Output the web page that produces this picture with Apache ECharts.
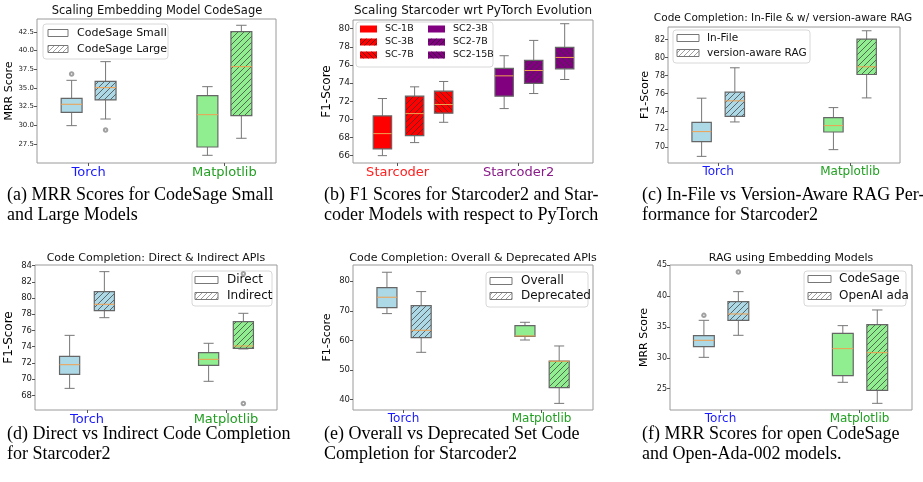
<!DOCTYPE html>
<html><head><meta charset="utf-8">
<script src="https://cdn.jsdelivr.net/npm/echarts@6/dist/echarts.min.js"></script>
<style>html,body{margin:0;padding:0;background:#fff}#c{width:923px;height:482px}</style>
</head><body><div id="c"></div>
<script>
// ---------- DATA ----------
// stats: [min, q1, median, q3, max]; per series, per category (null = absent)
const p1Categories = ['Torch', 'Matplotlib'];
const p1Series = ['CodeSage Small', 'CodeSage Large'];
const p1Stats = [
  [[29.96, 31.75, 32.82, 33.62, 36.03], [25.99, 27.1, 31.43, 33.97, 35.18]],
  [[30.85, 33.4, 35.05, 35.9, 38.53], [28.27, 31.3, 37.86, 42.54, 43.4]]
];
const p1Outliers = [[[36.88], []], [[29.38], []]];
const p1YTicks = [27.5, 30, 32.5, 35, 37.5, 40, 42.5];

const p2Categories = ['Starcoder', 'Starcoder2'];
const p2Series = ['SC-1B', 'SC-3B', 'SC-7B', 'SC2-3B', 'SC2-7B', 'SC2-15B'];
const p2Stats = [
  [[66.0, 66.74, 68.43, 70.38, 72.30], null],
  [[67.44, 68.21, 70.64, 72.56, 73.59], null],
  [[69.68, 70.68, 71.64, 73.11, 74.18], null],
  [null, [71.19, 72.56, 74.80, 75.62, 77.02]],
  [null, [72.85, 73.96, 75.39, 76.50, 78.71]],
  [null, [74.40, 75.58, 76.83, 77.94, 80.55]]
];
const p2Outliers = [[[], []], [[], []], [[], []], [[], []], [[], []], [[], []]];
const p2YTicks = [66, 68, 70, 72, 74, 76, 78, 80];

const p3Categories = ['Torch', 'Matplotlib'];
const p3Series = ['In-File', 'version-aware RAG'];
const p3Stats = [
  [[68.99, 70.63, 71.75, 72.79, 75.48], [69.74, 71.71, 72.42, 73.32, 74.43]],
  [[72.83, 73.46, 75.18, 76.15, 78.87], [75.51, 78.12, 78.98, 82.07, 83.0]]
];
const p3Outliers = [[[], []], [[], []]];
const p3YTicks = [70, 72, 74, 76, 78, 80, 82];

const p4Categories = ['Torch', 'Matplotlib'];
const p4Series = ['Direct', 'Indirect'];
const p4Stats = [
  [[68.86, 70.59, 71.78, 72.81, 75.40], [69.73, 71.70, 72.44, 73.26, 74.42]],
  [[77.58, 78.45, 79.23, 80.79, 83.26], [73.72, 73.80, 74.09, 77.09, 78.12]]
];
const p4Outliers = [[[], []], [[], [67.0, 83.0]]];
const p4YTicks = [68, 70, 72, 74, 76, 78, 80, 82, 84];

const p5Categories = ['Torch', 'Matplotlib'];
const p5Series = ['Overall', 'Deprecated'];
const p5Stats = [
  [[69.04, 71.07, 74.58, 77.85, 83.05], [60.1, 61.36, 61.47, 64.97, 66.1]],
  [[55.93, 60.9, 63.39, 71.75, 76.5], [38.64, 43.95, 52.9, 53.0, 58.08]]
];
const p5Outliers = [[[], []], [[], []]];
const p5YTicks = [40, 50, 60, 70, 80];

const p6Categories = ['Torch', 'Matplotlib'];
const p6Series = ['CodeSage', 'OpenAI ada'];
const p6Stats = [
  [[30.08, 31.81, 32.84, 33.59, 36.08], [26.03, 27.11, 31.49, 33.97, 35.22]],
  [[33.65, 36.08, 37.11, 39.11, 40.73], [22.62, 24.73, 30.84, 35.38, 37.76]]
];
const p6Outliers = [[[36.89], []], [[43.92], []]];
const p6YTicks = [25, 30, 35, 40, 45];

const captions = [
  ['(a) MRR Scores for CodeSage Small', 'and Large Models'],
  ['(b) F1 Scores for Starcoder2 and Star-', 'coder Models with respect to PyTorch'],
  ['(c) In-File vs Version-Aware RAG Per-', 'formance for Starcoder2'],
  ['(d) Direct vs Indirect Code Completion', 'for Starcoder2'],
  ['(e) Overall vs Deprecated Set Code', 'Completion for Starcoder2'],
  ['(f) MRR Scores for open CodeSage', 'and Open-Ada-002 models.']
];

// ---------- STYLE / LAYOUT ----------
const BLUE = '#add8e6', GREEN = '#90ee90', RED = '#ff0000', PURPLE = '#800080';
const FONT = 'DejaVu Sans';
const panels = [
  { cats: p1Categories, names: p1Series, stats: p1Stats, outl: p1Outliers, ticks: p1YTicks,
    title: 'Scaling Embedding Model CodeSage', yName: 'MRR Score', dec: 1,
    grid: [37, 19, 239, 144], xr: [0.62, 2.38], yr: [24.96, 44.24], offs: [-0.125, 0.125], bw: 0.154,
    hatch: [null, '/'], fills: 'cat', catColors: ['#1a1aff', '#22a022'],
    titlePos: [157, 5, 11.5], tickFont: 7, nameFont: 11, nameGap: 21, xFont: 13,
    legend: { box: [43, 24, 125, 35], cols: [[48, 77]], rows: [33, 49], pw: 20, font: 11 } },
  { cats: p2Categories, names: p2Series, stats: p2Stats, outl: p2Outliers, ticks: p2YTicks,
    title: 'Scaling Starcoder wrt PyTorch Evolution', yName: 'F1-Score', dec: 0,
    grid: [353, 20, 240, 143], xr: [0.631, 2.614], yr: [65.19, 80.96], offs: [-0.126, 0.14, 0.38, -0.12, 0.124, 0.38], bw: 0.152,
    hatch: [null, '/', '\\', null, '/', '\\'], fills: 'series', seriesFill: [RED, RED, RED, PURPLE, PURPLE, PURPLE],
    catColors: ['#ff2020', '#8a1a8a'],
    titlePos: [473, 5, 12], tickFont: 9, nameFont: 12, nameGap: 20, xFont: 13,
    legend: { box: [356, 22, 137, 45], cols: [[360, 385], [428, 453]], rows: [29, 42, 55], pw: 17, font: 9.5, filled: true } },
  { cats: p3Categories, names: p3Series, stats: p3Stats, outl: p3Outliers, ticks: p3YTicks,
    title: 'Code Completion: In-File & w/ version-aware RAG', yName: 'F1-Score', dec: 0,
    grid: [668, 27, 232, 136], xr: [0.619, 2.379], yr: [68.25, 83.42], offs: [-0.126, 0.126], bw: 0.147,
    hatch: [null, '/'], fills: 'cat', catColors: ['#1a1aff', '#22a022'],
    titlePos: [783, 13, 10.5], tickFont: 8, nameFont: 11, nameGap: 17, xFont: 12,
    legend: { box: [673, 30, 137, 33], cols: [[677, 707]], rows: [38, 53], pw: 22, font: 10.5 } },
  { cats: p4Categories, names: p4Series, stats: p4Stats, outl: p4Outliers, ticks: p4YTicks,
    title: 'Code Completion: Direct & Indirect APIs', yName: 'F1-Score', dec: 0,
    grid: [35, 265, 242, 145], xr: [0.626, 2.367], yr: [66.19, 84.08], offs: [-0.125, 0.125], bw: 0.145,
    hatch: [null, '/'], fills: 'cat', catColors: ['#1a1aff', '#22a022'],
    titlePos: [156, 253, 11], tickFont: 8.5, nameFont: 12, nameGap: 20, xFont: 13,
    legend: { box: [192, 271, 80, 35], cols: [[195, 227]], rows: [280, 296], pw: 23, font: 12 } },
  { cats: p5Categories, names: p5Series, stats: p5Stats, outl: p5Outliers, ticks: p5YTicks,
    title: 'Code Completion: Overall & Deprecated APIs', yName: 'F1-Score', dec: 0,
    grid: [353, 265, 240, 145], xr: [0.634, 2.373], yr: [36.4, 85.5], offs: [-0.12, 0.128], bw: 0.145,
    hatch: [null, '/'], fills: 'cat', catColors: ['#1a1aff', '#22a022'],
    titlePos: [473, 253, 11], tickFont: 8.5, nameFont: 11, nameGap: 20, xFont: 12,
    legend: { box: [486, 272, 102, 35], cols: [[490, 521]], rows: [281, 296], pw: 22, font: 12 } },
  { cats: p6Categories, names: p6Series, stats: p6Stats, outl: p6Outliers, ticks: p6YTicks,
    title: 'RAG using Embedding Models', yName: 'MRR Score', dec: 0,
    grid: [670, 265, 242, 145], xr: [0.636, 2.378], yr: [21.54, 45.05], offs: [-0.12, 0.128], bw: 0.15,
    hatch: [null, '/'], fills: 'cat', catColors: ['#1a1aff', '#22a022'],
    titlePos: [791, 253, 11], tickFont: 8, nameFont: 11, nameGap: 20, xFont: 12,
    legend: { box: [804, 271, 102, 35], cols: [[808, 839]], rows: [279, 296], pw: 23, font: 12 } }
];
const captionPos = [[7, 204], [324, 204], [642, 204], [7, 443], [324, 443], [642, 443]];

// ---------- HELPERS ----------
function hatchLines(x0, y0, x1, y1, dir, step, color, lw) {
  const out = [];
  if (!dir) return out;
  if (dir === '/') {
    for (let c = Math.ceil((x0 + y0) / step) * step; c <= x1 + y1; c += step) {
      const xa = Math.max(x0, c - y1), xb = Math.min(x1, c - y0);
      if (xb > xa) out.push({ type: 'line', shape: { x1: xa, y1: c - xa, x2: xb, y2: c - xb }, style: { stroke: color, lineWidth: lw } });
    }
  } else {
    for (let c = Math.ceil((x0 - y1) / step) * step; c <= x1 - y0; c += step) {
      const xa = Math.max(x0, c + y0), xb = Math.min(x1, c + y1);
      if (xb > xa) out.push({ type: 'line', shape: { x1: xa, y1: xa - c, x2: xb, y2: xb - c }, style: { stroke: color, lineWidth: lw } });
    }
  }
  return out;
}
function fillOf(p, si, ci) {
  if (p.fills === 'series') return p.seriesFill[si];
  return ci === 0 ? BLUE : GREEN;
}

const grids = [], xAxes = [], yAxes = [], series = [], titles = [], graphics = [];
panels.forEach((p, pi) => {
  grids.push({ left: p.grid[0], top: p.grid[1], width: p.grid[2], height: p.grid[3], show: true,
    borderColor: '#9a9a9a', borderWidth: 1, backgroundColor: 'transparent', containLabel: false });
  const rich = {};
  p.cats.forEach((c, i) => { rich['c' + i] = { color: p.catColors[i], fontSize: p.xFont, fontFamily: FONT }; });
  xAxes.push({ type: 'value', gridIndex: pi, min: p.xr[0], max: p.xr[1],
    axisLine: { show: false }, splitLine: { show: false },
    axisTick: { show: true, customValues: [1, 2], length: 3, lineStyle: { color: '#555' } },
    axisLabel: { customValues: [1, 2], margin: 3, formatter: v => { const i = Math.round(v) - 1; return '{c' + i + '|' + p.cats[i] + '}'; }, rich } });
  yAxes.push({ type: 'value', gridIndex: pi, min: p.yr[0], max: p.yr[1],
    name: p.yName, nameLocation: 'middle', nameGap: p.nameGap, nameRotate: 90,
    nameTextStyle: { fontFamily: FONT, fontSize: p.nameFont, color: '#000' },
    axisLine: { show: false }, splitLine: { show: false },
    axisTick: { show: true, customValues: p.ticks, length: 3, lineStyle: { color: '#555' } },
    axisLabel: { customValues: p.ticks, margin: 3, fontFamily: FONT, fontSize: p.tickFont, color: '#222',
      formatter: v => v.toFixed(p.dec) } });
  titles.push({ text: p.title, left: p.titlePos[0], top: p.titlePos[1], textAlign: 'center',
    textStyle: { fontFamily: FONT, fontWeight: 'normal', fontSize: p.titlePos[2], color: '#111' }, padding: 0 });

  p.names.forEach((name, si) => {
    const data = [];
    p.stats[si].forEach((st, ci) => { if (st) data.push([ci + 1 + p.offs[si], st[0], st[1], st[2], st[3], st[4], ci]); });
    const hatch = p.hatch[si];
    series.push({ type: 'custom', name, xAxisIndex: pi, yAxisIndex: pi, data,
      encode: { x: 0, y: [1, 2, 3, 4, 5] }, clip: false,
      renderItem: (params, api) => {
        const x = api.value(0), ci = api.value(6);
        const hw = api.size([p.bw, 0])[0] / 2;
        const c = v => api.coord([x, v]);
        const [cx, yMin] = c(api.value(1));
        const yQ1 = c(api.value(2))[1], yMed = c(api.value(3))[1], yQ3 = c(api.value(4))[1], yMax = c(api.value(5))[1];
        const wc = '#777', capw = hw / 2;
        const ch = [
          { type: 'line', shape: { x1: cx, y1: yMin, x2: cx, y2: yQ1 }, style: { stroke: wc, lineWidth: 1 } },
          { type: 'line', shape: { x1: cx, y1: yMax, x2: cx, y2: yQ3 }, style: { stroke: wc, lineWidth: 1 } },
          { type: 'line', shape: { x1: cx - capw, y1: yMin, x2: cx + capw, y2: yMin }, style: { stroke: wc, lineWidth: 1 } },
          { type: 'line', shape: { x1: cx - capw, y1: yMax, x2: cx + capw, y2: yMax }, style: { stroke: wc, lineWidth: 1 } },
          { type: 'rect', shape: { x: cx - hw, y: yQ3, width: 2 * hw, height: yQ1 - yQ3 },
            style: { fill: fillOf(p, si, ci), stroke: 'none' } }
        ];
        hatchLines(cx - hw, yQ3, cx + hw, yQ1, hatch, 6, '#333', 0.7).forEach(l => ch.push(l));
        ch.push({ type: 'rect', shape: { x: cx - hw, y: yQ3, width: 2 * hw, height: yQ1 - yQ3 },
          style: { fill: 'none', stroke: '#666', lineWidth: 1.2 } });
        ch.push({ type: 'line', shape: { x1: cx - hw, y1: yMed, x2: cx + hw, y2: yMed }, style: { stroke: '#f0a050', lineWidth: 1 } });
        return { type: 'group', children: ch };
      } });
    const od = [];
    p.outl[si].forEach((arr, ci) => arr.forEach(v => od.push([ci + 1 + p.offs[si], v])));
    if (od.length) series.push({ type: 'scatter', xAxisIndex: pi, yAxisIndex: pi, data: od, symbol: 'emptyCircle',
      symbolSize: 3.5, itemStyle: { color: '#888', borderColor: '#888', borderWidth: 0.7 }, silent: true, z: 1 });
  });

  const L = p.legend;
  const lg = [{ type: 'rect', shape: { x: L.box[0], y: L.box[1], width: L.box[2], height: L.box[3], r: 3 },
    style: { fill: 'rgba(255,255,255,0.85)', stroke: '#d8d8d8', lineWidth: 1 } }];
  p.names.forEach((name, si) => {
    const nRows = L.rows.length, col = Math.floor(si / nRows), row = si % nRows;
    const px = L.cols[col][0], tx = L.cols[col][1], cy = L.rows[row];
    const ph = 7;
    const fill = L.filled ? p.seriesFill[si] : '#fff';
    lg.push({ type: 'rect', shape: { x: px, y: cy - ph / 2, width: L.pw, height: ph }, style: { fill, stroke: L.filled ? 'none' : '#777', lineWidth: 1 } });
    hatchLines(px, cy - ph / 2, px + L.pw, cy + ph / 2, p.hatch[si], 5, L.filled ? '#222' : '#777', 0.7).forEach(l => lg.push(l));
    lg.push({ type: 'text', x: tx, y: cy, style: { text: name, fontFamily: FONT, fontSize: L.font, fill: '#111', textVerticalAlign: 'middle' } });
  });
  graphics.push({ type: 'group', children: lg, z: 100 });
});

captions.forEach((lines, i) => {
  lines.forEach((t, j) => graphics.push({ type: 'text', x: captionPos[i][0], y: captionPos[i][1] + j * 20,
    style: { text: t, fontFamily: 'Liberation Serif', fontSize: 18, fill: '#000', textVerticalAlign: 'bottom' } }));
});

const chart = echarts.init(document.getElementById('c'), null, { renderer: 'canvas' });
chart.setOption({ animation: false, backgroundColor: '#fff', title: titles, grid: grids, xAxis: xAxes, yAxis: yAxes, series, graphic: graphics });
</script></body></html>
